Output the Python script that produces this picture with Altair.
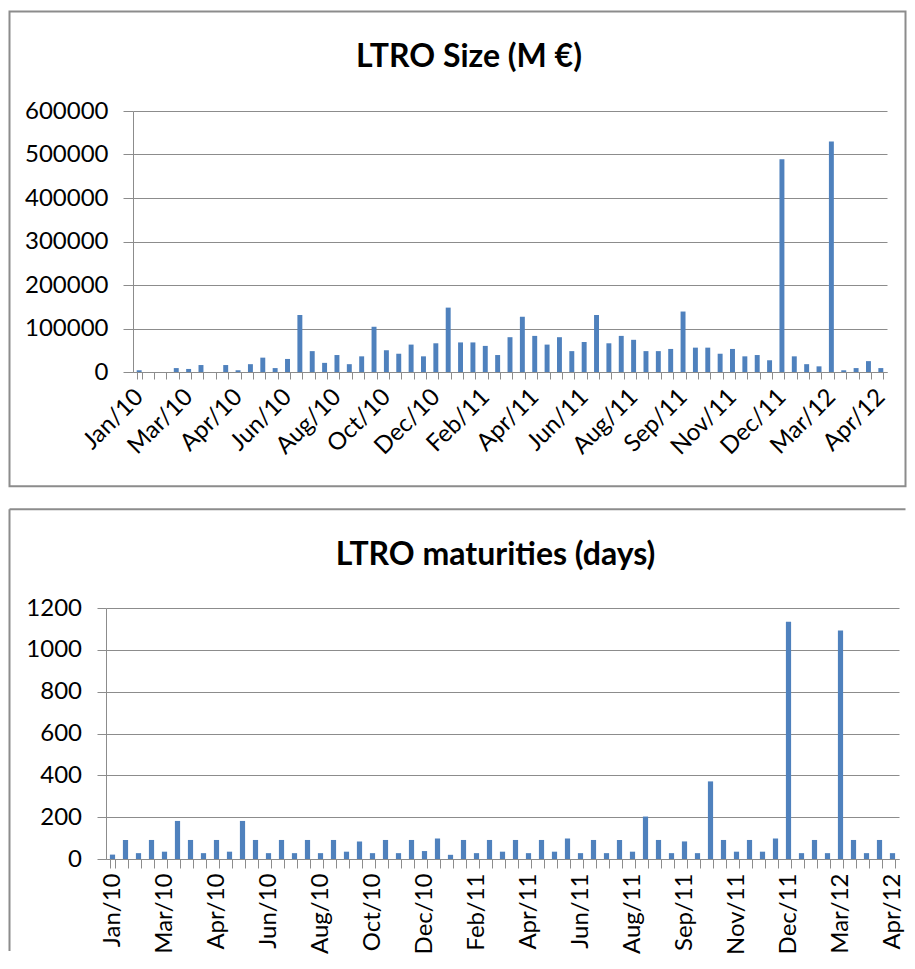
import json
import altair as alt
import pandas as pd

TICK_LABELS = ["Jan/10", "Mar/10", "Apr/10", "Jun/10", "Aug/10", "Oct/10", "Dec/10", "Feb/11",
               "Apr/11", "Jun/11", "Aug/11", "Sep/11", "Nov/11", "Dec/11", "Mar/12", "Apr/12"]

SIZES = [4000, 0, 0, 9000, 7000, 16000, 0, 16000, 4000, 18000,
         33000, 9000, 30000, 131000, 48000, 21000, 39000, 18000, 36000, 104000,
         50000, 42000, 63000, 36000, 66000, 148000, 68000, 68000, 60000, 39000,
         80000, 127000, 83000, 63000, 80000, 48000, 69000, 131000, 66000, 83000,
         74000, 48000, 48000, 53000, 139000, 56000, 56000, 42000, 53000, 36000,
         39000, 27000, 489000, 36000, 18000, 13000, 530000, 4000, 9000, 25000,
         9000]

MATURITIES = [21, 91, 28, 91, 35, 182, 91, 28, 91, 35,
              182, 91, 28, 91, 28, 91, 28, 91, 35, 84,
              28, 91, 28, 91, 38, 98, 20, 91, 28, 91,
              35, 91, 28, 91, 35, 98, 28, 91, 28, 91,
              35, 203, 91, 28, 84, 28, 371, 91, 35, 91,
              35, 98, 1134, 28, 91, 28, 1092, 91, 28, 91,
              28]

TITLE_SIZE = "LTRO Size (M €)"
TITLE_MAT = "LTRO maturities (days)"

n = len(SIZES)
df = pd.DataFrame({"idx": list(range(n)), "size": SIZES, "mat": MATURITIES})

label_expr = "datum.value % 4 == 0 ? " + json.dumps(TICK_LABELS) + "[datum.value / 4] : ''"

FONT = "Lato"
BLUE = "#4F81BD"
GRID = "#8c8c8c"
BORDER = "#8c8c8c"


def x_axis(angle, tick, pad):
    return alt.Axis(title=None, labelExpr=label_expr, labelAngle=angle, labelAlign="right",
                    labelBaseline="middle", labelFont=FONT, labelFontSize=24, labelColor="black",
                    labelPadding=pad, tickSize=tick, tickBand="extent", tickColor=GRID,
                    domainColor=GRID, labelOverlap=False, grid=False)


def y_axis(values, tick, pad, offset=0):
    return alt.Axis(title=None, values=values, format="d", labelFont=FONT, labelFontSize=24,
                    labelColor="black", labelPadding=pad, tickSize=tick, tickColor=GRID,
                    domainColor=GRID, gridColor=GRID, grid=True, labelOverlap=False,
                    offset=offset)


# ---- top panel (plot origin shared with bottom; data range shifted right by 27px) ----
SHIFT = 27
W_TOP = 781
bars1 = alt.Chart(df).mark_bar(color=BLUE).encode(
    x=alt.X("idx:O", scale=alt.Scale(paddingInner=0.6, paddingOuter=0.3, range=[SHIFT, W_TOP]),
            axis=x_axis(-45, 7, 14)),
    y=alt.Y("size:Q", scale=alt.Scale(domain=[0, 600000]),
            axis=y_axis(list(range(0, 600001, 100000)), 10, 15, -SHIFT)),
)
border1 = alt.Chart(alt.Data(values=[{"a": 1}])).mark_rect(
    fillOpacity=0, stroke=BORDER, strokeWidth=2).encode(
    x=alt.value(-96.5), x2=alt.value(799.5), y=alt.value(-99.4), y2=alt.value(375.3))
title1 = alt.Chart(alt.Data(values=[{"t": TITLE_SIZE}])).mark_text(
    font=FONT, fontSize=32, fontWeight="bold", align="center", baseline="alphabetic",
    color="black").encode(text="t:N", x=alt.value(363), y=alt.value(-44))
top = alt.layer(border1, bars1, title1).properties(width=W_TOP, height=261)

# ---- bottom panel ----
bars2 = alt.Chart(df).mark_bar(color=BLUE).encode(
    x=alt.X("idx:O", scale=alt.Scale(paddingInner=0.6, paddingOuter=0.3),
            axis=x_axis(-90, 9, 5)),
    y=alt.Y("mat:Q", scale=alt.Scale(domain=[0, 1200]),
            axis=y_axis(list(range(0, 1201, 200)), 9, 15.5)),
)
left2 = alt.Chart(alt.Data(values=[{"a": 1}])).mark_rule(color=BORDER, strokeWidth=2).encode(
    x=alt.value(-96.5), y=alt.value(-98.7), y2=alt.value(343))
top2 = alt.Chart(alt.Data(values=[{"a": 1}])).mark_rule(color=BORDER, strokeWidth=2).encode(
    y=alt.value(-98.7), x=alt.value(-96.5), x2=alt.value(799.5))
title2 = alt.Chart(alt.Data(values=[{"t": TITLE_MAT}])).mark_text(
    font=FONT, fontSize=32, fontWeight="bold", align="center", baseline="alphabetic",
    color="black").encode(text="t:N", x=alt.value(389.5), y=alt.value(-42.7))
bottom = alt.layer(left2, top2, bars2, title2).properties(width=793, height=251)

chart = alt.vconcat(top, bottom, spacing=20).properties(
    padding={"left": 0, "top": 2, "right": 0, "bottom": 0}
).configure_view(strokeWidth=0)

chart.save("out.html", embed_options={"renderer": "svg", "actions": False})
